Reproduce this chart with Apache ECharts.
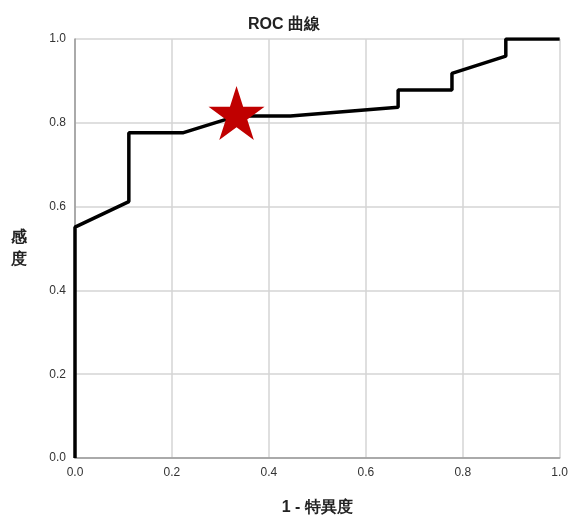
<!DOCTYPE html>
<html>
<head>
<meta charset="utf-8">
<script src="https://cdn.jsdelivr.net/npm/echarts@6/dist/echarts.min.js"></script>
<style>html,body{margin:0;padding:0;background:#fff;}#c{width:571px;height:521px;}</style>
</head>
<body>
<div id="c"></div>
<script>
// 1 - specificity (x) and sensitivity (y) of the ROC curve
var fpr = [0, 0, 0.1111, 0.1111, 0.2222, 0.3333, 0.4444, 0.6667, 0.6667, 0.7778, 0.7778, 0.8889, 0.8889, 1];
var tpr = [0, 0.551, 0.612, 0.776, 0.776, 0.816, 0.816, 0.837, 0.878, 0.878, 0.918, 0.959, 1, 1];
var optimalPoint = [0.3333, 0.816];
var tickValues = [0, 0.2, 0.4, 0.6, 0.8, 1.0];

var curve = fpr.map(function (x, i) { return [x, tpr[i]]; });
var starPath = 'path://M50,0L61.23,34.55L97.55,34.55L68.17,55.9L79.39,90.45L50,69.1L20.61,90.45L31.83,55.9L2.45,34.55L38.77,34.55Z';
var font = '"Liberation Sans", Arial, sans-serif';

var chart = echarts.init(document.getElementById('c'));
chart.setOption({
  animation: false,
  backgroundColor: '#fff',
  title: {
    text: 'ROC 曲線',
    left: 279, top: 12, textAlign: 'center',
    textStyle: { fontFamily: font, fontSize: 16, fontWeight: 'bold', color: '#222' }
  },
  grid: { left: 75, top: 39, right: 9, bottom: 55, containLabel: false },
  xAxis: {
    type: 'value', min: 0, max: 1, interval: 0.2,
    name: '1 - 特異度', nameLocation: 'middle', nameGap: 42,
    nameTextStyle: { fontFamily: font, fontSize: 16, fontWeight: 'bold', color: '#222' },
    axisLine: { show: true, lineStyle: { color: '#999', width: 1.5 } },
    axisTick: { show: false },
    axisLabel: { fontFamily: font, fontSize: 12, color: '#333', margin: 9,
      formatter: function (v) { return v.toFixed(1); } },
    splitLine: { show: true, lineStyle: { color: '#d4d4d4', width: 1.5 } }
  },
  yAxis: {
    type: 'value', min: 0, max: 1, interval: 0.2,
    name: '感\n度', nameLocation: 'middle', nameGap: 48, nameRotate: 0,
    nameTextStyle: { fontFamily: font, fontSize: 16, fontWeight: 'bold', color: '#222', lineHeight: 22 },
    axisLine: { show: true, lineStyle: { color: '#999', width: 1.5 } },
    axisTick: { show: false },
    axisLabel: { fontFamily: font, fontSize: 12, color: '#333', margin: 9,
      formatter: function (v) { return v.toFixed(1); } },
    splitLine: { show: true, lineStyle: { color: '#d4d4d4', width: 1.5 } }
  },
  series: [
    {
      type: 'line', data: curve, showSymbol: false, symbol: 'none',
      lineStyle: { color: '#000', width: 3.5 }, z: 3
    },
    {
      type: 'scatter', data: [optimalPoint], symbol: starPath,
      symbolSize: [56, 54], symbolOffset: [0, -3],
      itemStyle: { color: '#c00000', opacity: 1 }, z: 5
    }
  ]
});
</script>
</body>
</html>
